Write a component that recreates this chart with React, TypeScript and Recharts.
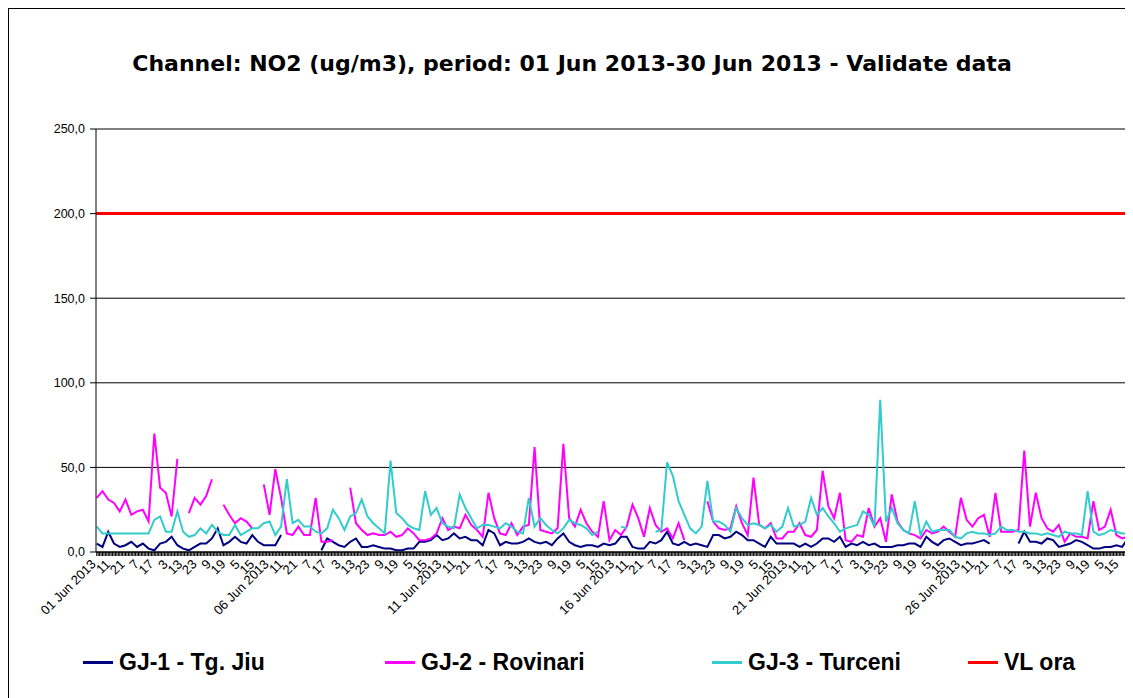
import React from 'react';
import { LineChart, Line, XAxis, YAxis, CartesianGrid, ReferenceLine } from 'recharts';

// Hourly samples (every 4 hours) from 01 Jun 2013 01:00, hour index 0..719
const HOURS: number[] = Array.from({ length: 180 }, (_, k) => k * 4);

const GJ1_TG_JIU: (number | null)[] = [
  5, 3, 12, 5, 3, 4, 6, 3, 5, 2,
  1, 5, 6, 9, 4, 2, 1, 3, 5, 5,
  8, 14, 4, 6, 9, 6, 5, 10, 6, 4,
  4, 4, 10, null, null, null, null, null, null, 1,
  8, 6, 4, 3, 6, 8, 3, 3, 4, 3,
  2, 2, 1, 1, 2, 2, 6, 6, 7, 10,
  7, 8, 11, 8, 9, 7, 7, 4, 13, 11,
  4, 6, 5, 5, 6, 8, 6, 5, 6, 4,
  8, 11, 6, 4, 3, 4, 4, 3, 5, 4,
  5, 9, 9, 3, 2, 2, 6, 5, 7, 12,
  5, 4, 6, 4, 5, 4, 3, 10, 10, 8,
  9, 12, 10, 7, 7, 5, 3, 9, 5, 5,
  5, 5, 3, 5, 3, 5, 8, 8, 6, 9,
  3, 5, 4, 6, 4, 5, 3, 3, 3, 4,
  4, 5, 5, 3, 9, 6, 4, 7, 8, 6,
  4, 5, 5, 6, 7, 5, null, null, null, null,
  5, 12, 6, 6, 5, 8, 7, 3, 4, 5,
  7, 6, 4, 2, 2, 3, 3, 4, 3, 8,
];

const GJ2_ROVINARI: (number | null)[] = [
  32, 36, 31, 29, 24, 31, 22, 24, 25, 18,
  70, 38, 35, 21, 55, null, 23, 32, 28, 33,
  43, null, 28, 22, 17, 20, 18, 14, null, 40,
  22, 49, 32, 11, 10, 15, 10, 10, 32, 6,
  6, 7, null, null, 38, 17, 13, 10, 11, 10,
  10, 12, 9, 10, 14, 11, 7, 7, 8, 11,
  20, 13, 15, 14, 22, 16, 13, 9, 35, 20,
  11, 10, 17, 10, 15, 16, 62, 13, 12, 11,
  14, 64, 20, 15, 25, 17, 12, 9, 30, 7,
  13, 10, 15, 28, 20, 9, 26, 16, 12, 14,
  8, 17, 7, null, null, null, 30, 18, 14, 13,
  14, 27, 17, 10, 44, 16, 14, 17, 8, 8,
  12, 12, 17, 10, 9, 13, 48, 27, 20, 35,
  7, 6, 10, 9, 26, 15, 20, 6, 34, 18,
  13, 11, 10, 8, 13, 11, 12, 15, 12, 9,
  32, 19, 15, 20, 22, 9, 35, 12, 12, 12,
  13, 60, 15, 35, 20, 14, 12, 16, 6, 11,
  9, 9, 8, 30, 13, 15, 25, 10, 8, 9,
];

const GJ3_TURCENI: (number | null)[] = [
  15, 11, 11, 11, 11, 11, 11, 11, 11, 11,
  19, 21, 12, 12, 24, 12, 9, 10, 14, 11,
  16, 12, 10, 10, 16, 10, 12, 14, 14, 17,
  18, 10, 15, 43, 17, 19, 15, 15, 12, 11,
  14, 25, 20, 13, 21, 23, 31, 21, 17, 14,
  11, 54, 23, 20, 16, 14, 13, 36, 22, 26,
  17, 15, 14, 34, 26, 20, 14, 16, 16, 15,
  14, 17, 15, 12, 11, 32, 15, 20, 16, 13,
  11, 14, 19, 17, 16, 14, 10, 12, null, null,
  null, 15, 14, null, null, null, null, 12, 13, 53,
  45, 30, 22, 14, 11, 15, 42, 18, 18, 16,
  12, 26, 20, 16, 17, 16, 14, 16, 12, 15,
  26, 15, 16, 18, 32, 22, 26, 21, 17, 12,
  14, 15, 16, 24, 22, 15, 90, 18, 26, 17,
  13, 11, 30, 10, 18, 12, 13, 13, 13, 9,
  8, 11, 12, 11, 11, 10, 11, 15, 13, 13,
  12, 12, 11, 11, 10, 11, 10, 9, 12, 11,
  11, 10, 36, 12, 10, 11, 13, 12, 11, 11,
];

const VL_ORA = 200;

const Y_TICKS = [0, 50, 100, 150, 200, 250];
const MONTH_LABEL = 'Jun 2013';
// Category axis: every hour a small tick, every 10 hours a label
const MINOR_TICKS: number[] = Array.from({ length: 720 }, (_, i) => i);
const tickLabel = (h: number): string => {
  const abs = h + 1; // first sample is 01:00
  const hourOfDay = abs % 24;
  const day = Math.floor(abs / 24) + 1;
  if (hourOfDay === 1) return `${String(day).padStart(2, '0')} ${MONTH_LABEL}`;
  return String(hourOfDay);
};

const SERIES = [
  { key: 'gj1', name: 'GJ-1 - Tg. Jiu', color: '#000080' },
  { key: 'gj2', name: 'GJ-2 - Rovinari', color: '#FF00FF' },
  { key: 'gj3', name: 'GJ-3 - Turceni', color: '#33CCCC' },
];

const data = HOURS.map((h, k) => ({
  h,
  gj1: GJ1_TG_JIU[k],
  gj2: GJ2_ROVINARI[k],
  gj3: GJ3_TURCENI[k],
}));

const FONT = '"Liberation Sans", Arial, sans-serif';

const XTick = (props: any) => {
  const { x, y, payload } = props;
  const h = payload.value as number;
  if (h % 10 !== 0) return <g />;
  const ty = y + 7;
  return (
    <text
      x={x}
      y={ty}
      transform={`rotate(-45 ${x} ${ty})`}
      textAnchor="end"
      fontSize={13}
      fontFamily={FONT}
      fill="#000"
    >
      {tickLabel(h)}
    </text>
  );
};

const legendItems = [
  { name: 'GJ-1 - Tg. Jiu', color: '#000080', left: 74 },
  { name: 'GJ-2 - Rovinari', color: '#FF00FF', left: 376 },
  { name: 'GJ-3 - Turceni', color: '#33CCCC', left: 703 },
  { name: 'VL ora', color: '#FF0000', left: 959 },
];

export default function App() {
  return (
    <div
      style={{
        position: 'relative',
        width: 1125,
        height: 690,
        boxSizing: 'border-box',
        borderLeft: '1px solid #000',
        borderTop: '1px solid #000',
        background: '#fff',
        overflow: 'hidden',
      }}
    >
      <div
        style={{
          position: 'absolute',
          left: 63,
          top: 42,
          width: 1000,
          textAlign: 'center',
          fontFamily: '"DejaVu Sans", Verdana, sans-serif',
          fontWeight: 'bold',
          fontSize: 22,
          lineHeight: '26px',
          color: '#000',
        }}
      >
        Channel: NO2 (ug/m3), period: 01 Jun 2013-30 Jun 2013 - Validate data
      </div>
      <div style={{ position: 'absolute', left: 0, top: 0 }}>
        <LineChart
          width={1124}
          height={689}
          data={data}
          margin={{ top: 120, right: 0, bottom: 66, left: 0 }}
        >
          <CartesianGrid vertical={false} stroke="#000" strokeWidth={1} />
          <XAxis
            dataKey="h"
            type="number"
            domain={[-0.5, 719.5]}
            ticks={MINOR_TICKS}
            interval={0}
            tick={<XTick />}
            tickSize={4}
            tickLine={{ stroke: '#000' }}
            axisLine={{ stroke: '#000' }}
            height={80}
            allowDataOverflow
          />
          <YAxis
            type="number"
            domain={[0, 250]}
            ticks={Y_TICKS}
            interval={0}
            width={87}
            tickSize={6}
            tickMargin={5}
            tickLine={{ stroke: '#000' }}
            axisLine={{ stroke: '#000' }}
            tick={{ fontSize: 12.5, fontFamily: FONT, fill: '#000' }}
            tickFormatter={(v: number) => v.toFixed(1).replace('.', ',')}
          />
          {SERIES.map((s) => (
            <Line
              key={s.key}
              type="linear"
              dataKey={s.key}
              name={s.name}
              stroke={s.color}
              strokeWidth={2}
              dot={false}
              activeDot={false}
              connectNulls={false}
              isAnimationActive={false}
            />
          ))}
          <ReferenceLine y={VL_ORA} stroke="#FF0000" strokeWidth={3} ifOverflow="extendDomain" />
        </LineChart>
      </div>
      {legendItems.map((it) => (
        <div
          key={it.name}
          style={{
            position: 'absolute',
            left: it.left,
            top: 640,
            display: 'flex',
            alignItems: 'center',
            fontFamily: FONT,
            fontWeight: 'bold',
            fontSize: 23,
            color: '#000',
            whiteSpace: 'nowrap',
          }}
        >
          <span
            style={{
              display: 'inline-block',
              width: 30,
              height: 3,
              background: it.color,
              marginRight: 6,
            }}
          />
          {it.name}
        </div>
      ))}
    </div>
  );
}
